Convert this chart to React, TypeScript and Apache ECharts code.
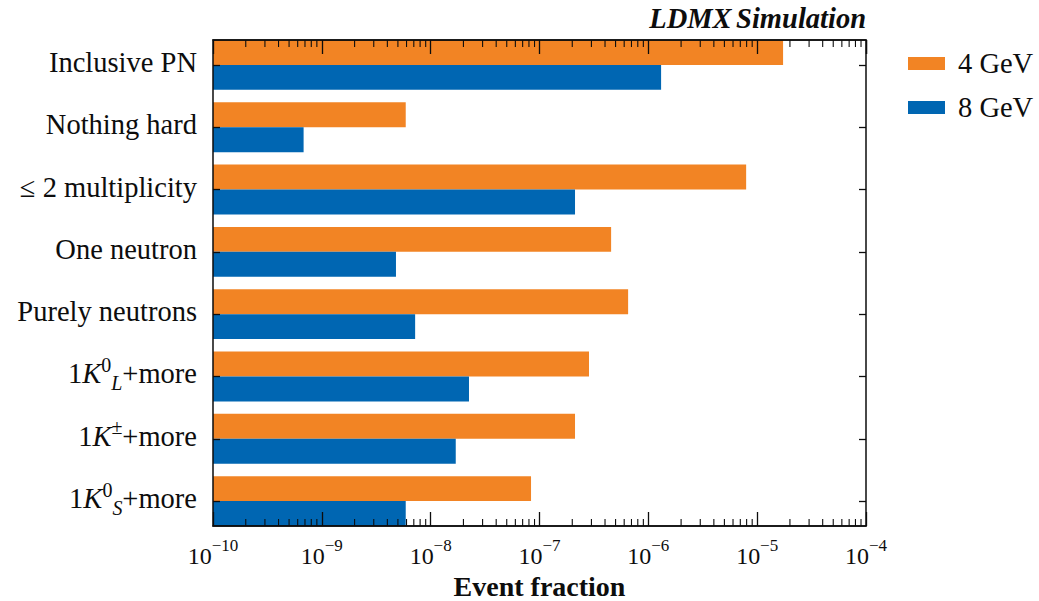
import React, { useEffect, useRef } from "react";
import * as echarts from "echarts";

const CATEGORIES = [
  "Inclusive PN",
  "Nothing hard",
  "≤ 2 multiplicity",
  "One neutron",
  "Purely neutrons",
  "1K_L^0+more",
  "1K^±+more",
  "1K_S^0+more",
];
const SERIES_NAMES = ["4 GeV", "8 GeV"];
const GEV4 = [1.73e-5, 5.9e-9, 7.92e-6, 4.55e-7, 6.52e-7, 2.85e-7, 2.12e-7, 8.36e-8];
const GEV8 = [1.31e-6, 6.8e-10, 2.12e-7, 4.8e-9, 7.2e-9, 2.25e-8, 1.7e-8, 5.9e-9];
const X_MIN = 1e-10;
const X_MAX = 1e-4;
const DECADE_EXPONENTS = [-10, -9, -8, -7, -6, -5];
const MINOR_MULTIPLIERS = [2, 3, 4, 5, 6, 7, 8, 9];

const COLORS = ["#F28424", "#0066B2"];
const FONT = "'Liberation Serif', 'Times New Roman', serif";
const INK = "#0d0d0d";

// layout
const FRAME_L = 213;
const FRAME_R = 866;
const FRAME_T = 40;
const FRAME_B = 526;
const SPAN = 7.8; // category units visible (bars touch frame)
const UNIT = (FRAME_B - FRAME_T) / SPAN;
const PAD = 0.1 * UNIT;
const BAR_W = 0.4 * UNIT;

const LABEL_RICH: Record<string, string> = {
  "1K_L^0+more": "{r|1}{i|K}{sup|0}{sub|L}{r|+more}",
  "1K^±+more": "{r|1}{i|K}{sup|±}{r|+more}",
  "1K_S^0+more": "{r|1}{i|K}{sup|0}{sub|S}{r|+more}",
};

export default function App() {
  const ref = useRef<HTMLDivElement>(null);
  useEffect(() => {
    if (!ref.current) return;
    const chart = echarts.init(ref.current, null, { renderer: "svg" });
    const minorTicks: number[][] = [];
    DECADE_EXPONENTS.forEach((e) =>
      MINOR_MULTIPLIERS.forEach((m) => minorTicks.push([m * Math.pow(10, e), 0]))
    );

    const xAxisCommon = {
      type: "log",
      logBase: 10,
      min: X_MIN,
      max: X_MAX,
      interval: 1,
      startValue: X_MIN,
      z: 5,
      axisLine: { show: true, lineStyle: { color: INK, width: 1.5 } },
      axisTick: { show: true, inside: true, length: 14, lineStyle: { color: INK, width: 1.3 } },
      splitLine: { show: false },
    };

    const yAxisCommon = {
      type: "category",
      data: CATEGORIES,
      inverse: true,
      z: 5,
      axisLine: { show: false },
      axisTick: {
        show: true,
        inside: true,
        length: 7,
        alignWithLabel: true,
        lineStyle: { color: INK, width: 1.3 },
      },
      splitLine: { show: false },
    };

    const option: any = {
      animation: false,
      backgroundColor: "#ffffff",
      textStyle: { fontFamily: FONT },
      grid: {
        left: FRAME_L,
        width: FRAME_R - FRAME_L,
        top: FRAME_T - PAD,
        height: FRAME_B - FRAME_T + 2 * PAD,
        containLabel: false,
        outerBoundsMode: "none",
      },
      title: {
        text: "{a|LDMX} {b|Simulation}",
        right: 1039 - FRAME_R,
        top: 4,
        padding: 0,
        textStyle: {
          rich: {
            a: { fontFamily: FONT, fontSize: 28.5, fontWeight: "bold", fontStyle: "italic", color: INK },
            b: { fontFamily: FONT, fontSize: 28.5, fontStyle: "italic", color: INK },
          },
        },
      },
      legend: {
        data: SERIES_NAMES,
        orient: "vertical",
        left: 908,
        top: 49,
        padding: 0,
        itemWidth: 37,
        itemHeight: 13,
        itemGap: 15,
        icon: "rect",
        selectedMode: false,
        textStyle: { fontFamily: FONT, fontSize: 28.5, color: INK, padding: [0, 0, 0, 8] },
      },
      xAxis: [
        {
          ...xAxisCommon,
          position: "bottom",
          offset: -PAD,
          name: "Event fraction",
          nameLocation: "middle",
          nameGap: 38,
          nameTextStyle: { fontFamily: FONT, fontSize: 28, fontWeight: "bold", color: INK },
          axisLabel: {
            show: true,
            margin: 11,
            formatter: (v: number) => {
              const e = Math.round(Math.log10(v));
              return `{b|10}{s|${e < 0 ? "\u2212" + -e : e}}`;
            },
            rich: {
              b: { fontFamily: FONT, fontSize: 24, color: INK, lineHeight: 31, verticalAlign: "bottom" },
              s: { fontFamily: FONT, fontSize: 17, color: INK, lineHeight: 17, verticalAlign: "top" },
            },
          },
        },
        {
          ...xAxisCommon,
          position: "top",
          offset: -PAD,
          axisLabel: { show: false },
        },
      ],
      yAxis: [
        {
          ...yAxisCommon,
          position: "left",
          axisLabel: {
            show: true,
            margin: 16,
            padding: [0, 0, 5, 0],
            formatter: (v: string) => LABEL_RICH[v] || `{r|${v}}`,
            rich: {
              r: { fontFamily: FONT, fontSize: 28.5, color: INK, lineHeight: 38 },
              i: { fontFamily: FONT, fontSize: 28.5, fontStyle: "italic", color: INK, lineHeight: 38 },
              sup: { fontFamily: FONT, fontSize: 20, color: INK, lineHeight: 20, verticalAlign: "top" },
              sub: { fontFamily: FONT, fontSize: 20, fontStyle: "italic", color: INK, lineHeight: 20, verticalAlign: "bottom" },
            },
          },
        },
        {
          ...yAxisCommon,
          position: "right",
          axisLabel: { show: false },
        },
      ],
      series: [
        {
          name: SERIES_NAMES[0],
          type: "bar",
          xAxisIndex: 0,
          yAxisIndex: 0,
          data: GEV4,
          barWidth: BAR_W,
          barGap: "0%",
          itemStyle: { color: COLORS[0] },
        },
        {
          name: SERIES_NAMES[1],
          type: "bar",
          xAxisIndex: 0,
          yAxisIndex: 0,
          data: GEV8,
          barWidth: BAR_W,
          barGap: "0%",
          itemStyle: { color: COLORS[1] },
        },
        {
          name: "minor ticks",
          type: "custom",
          xAxisIndex: 0,
          yAxisIndex: 0,
          z: 6,
          silent: true,
          clip: false,
          encode: { x: 0, y: 1 },
          data: minorTicks,
          renderItem: (params: any, api: any) => {
            const x = api.coord([api.value(0), 0])[0];
            const style = { stroke: INK, lineWidth: 1.1 };
            return {
              type: "group",
              children: [
                { type: "line", shape: { x1: x, y1: FRAME_B, x2: x, y2: FRAME_B - 7 }, style },
                { type: "line", shape: { x1: x, y1: FRAME_T, x2: x, y2: FRAME_T + 7 }, style },
              ],
            };
          },
        },
      ],
      graphic: [
        {
          type: "rect",
          z: 20,
          silent: true,
          shape: { x: FRAME_L, y: FRAME_T, width: FRAME_R - FRAME_L, height: FRAME_B - FRAME_T },
          style: { fill: "none", stroke: INK, lineWidth: 1.5 },
        },
      ],
    };
    chart.setOption(option);
    return () => chart.dispose();
  }, []);
  return (
    <div
      ref={ref}
      style={{ position: "fixed", left: 0, top: 0, width: 1039, height: 601, background: "#fff" }}
    />
  );
}
